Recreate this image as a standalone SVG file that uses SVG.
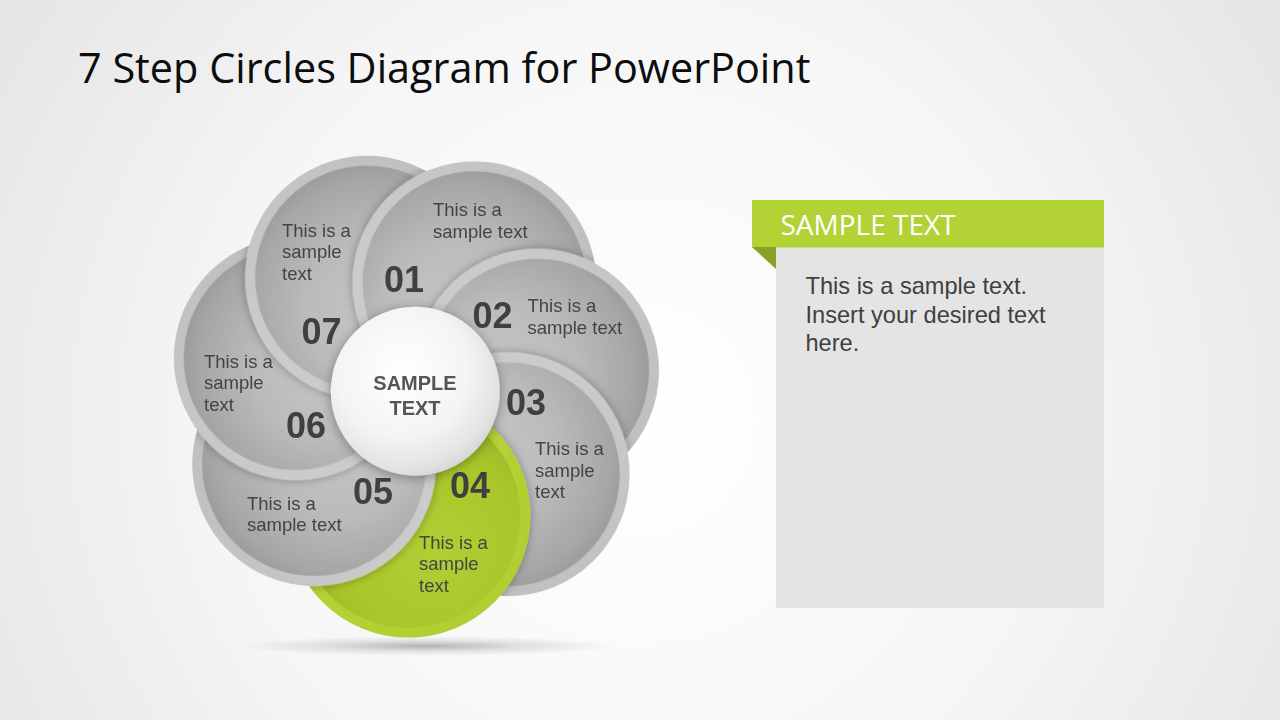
<svg xmlns="http://www.w3.org/2000/svg" xmlns:xlink="http://www.w3.org/1999/xlink" width="1280" height="720" viewBox="0 0 1280 720">
<style>
.t{font-family:"Liberation Sans",Arial,sans-serif;font-size:18.5px;fill:#444444}
.n{font-family:"Liberation Sans",Arial,sans-serif;font-size:36px;font-weight:bold;fill:#404040}
.c{font-family:"Liberation Sans",Arial,sans-serif;font-size:20px;font-weight:bold;fill:#555555;text-anchor:middle}
.title{font-family:"Open Sans",sans-serif;font-size:41.4px;fill:#0d0d0d}
.hd{font-family:"Open Sans",sans-serif;font-size:28px;fill:#ffffff}
.body{font-family:"Liberation Sans",Arial,sans-serif;font-size:23.6px;fill:#404040}
</style>
<defs>
<radialGradient id="bg" cx="640" cy="420" r="820" gradientUnits="userSpaceOnUse">
<stop offset="0" stop-color="#ffffff"/>
<stop offset="0.5" stop-color="#f6f6f6"/>
<stop offset="1" stop-color="#e2e2e2"/>
</radialGradient>
<linearGradient id="ring" x1="0" y1="0" x2="1" y2="1">
<stop offset="0" stop-color="#cecece"/>
<stop offset="1" stop-color="#bebebe"/>
</linearGradient>
<radialGradient id="inG" cx="0.38" cy="0.5" r="0.66" fx="0.3" fy="0.5">
<stop offset="0" stop-color="#c7c7c7"/>
<stop offset="0.5" stop-color="#bbbbbb"/>
<stop offset="0.85" stop-color="#a6a6a6"/>
<stop offset="1" stop-color="#979797"/>
</radialGradient>
<linearGradient id="ringGr" x1="0" y1="0" x2="1" y2="1">
<stop offset="0" stop-color="#b9d73b"/>
<stop offset="1" stop-color="#aecd2f"/>
</linearGradient>
<radialGradient id="inGr" cx="0.6" cy="0.62" r="0.72" fx="0.62" fy="0.66">
<stop offset="0" stop-color="#b1cf33"/>
<stop offset="0.6" stop-color="#a8c62b"/>
<stop offset="1" stop-color="#8ea720"/>
</radialGradient>
<radialGradient id="ctr" cx="0.42" cy="0.38" r="0.65">
<stop offset="0" stop-color="#ffffff"/>
<stop offset="0.6" stop-color="#f4f4f4"/>
<stop offset="0.9" stop-color="#e2e2e2"/>
<stop offset="1" stop-color="#d4d4d4"/>
</radialGradient>
<radialGradient id="flr" cx="0.5" cy="0.5" r="0.5">
<stop offset="0" stop-color="#000" stop-opacity="0.28"/>
<stop offset="0.5" stop-color="#000" stop-opacity="0.1"/>
<stop offset="1" stop-color="#000" stop-opacity="0"/>
</radialGradient>
<filter id="sh" x="-30%" y="-30%" width="160%" height="160%">
<feDropShadow dx="0" dy="0" stdDeviation="5" flood-color="#000" flood-opacity="0.33"/>
</filter>
<filter id="shc" x="-30%" y="-30%" width="160%" height="160%">
<feDropShadow dx="0" dy="2" stdDeviation="6" flood-color="#000" flood-opacity="0.35"/>
</filter>
<g id="disc">
<circle r="122" fill="url(#ring)"/>
<circle r="112" fill="url(#inG)"/>
</g>
<g id="discGreen">
<circle r="122" fill="url(#ringGr)"/>
<circle r="112" fill="url(#inGr)"/>
</g>
<mask id="m06" maskUnits="userSpaceOnUse" x="0" y="0" width="1280" height="720">
<circle cx="295.7" cy="358.1" r="134" fill="#fff"/>
</mask>
<mask id="mAll" maskUnits="userSpaceOnUse" x="0" y="0" width="1280" height="720">
<g fill="#fff">
<circle cx="474.5" cy="283.2" r="122"/>
<circle cx="537.2" cy="370.7" r="122"/>
<circle cx="507.8" cy="474.3" r="122"/>
<circle cx="408.5" cy="515.8" r="122"/>
<circle cx="314.1" cy="464.1" r="122"/>
<circle cx="295.7" cy="358.1" r="122"/>
<circle cx="367.1" cy="277.6" r="122"/>
</g>
</mask>
</defs>

<rect width="1280" height="720" fill="url(#bg)"/>

<g id="title">
<text class="title" x="78" y="83">7 Step Circles Diagram for PowerPoint</text>
</g>

<ellipse cx="427" cy="646" rx="190" ry="10" fill="url(#flr)"/>

<g id="connectors"/>

<g id="wheel" mask="url(#mAll)">
<g id="under-layer">
<use xlink:href="#disc" transform="translate(367.1,277.6) rotate(247.3)" filter="url(#sh)"/>
<use xlink:href="#disc" transform="translate(474.5,283.2) rotate(-61.3)" filter="url(#sh)"/>
</g>

<g id="node-02">
<use xlink:href="#disc" transform="translate(537.2,370.7) rotate(-9.9)" filter="url(#sh)"/>
<text class="n" x="472.5" y="328">02</text>
<text class="t" x="527.5" y="312">This is a</text>
<text class="t" x="527.5" y="333.5">sample text</text>
</g>

<g id="node-03">
<use xlink:href="#disc" transform="translate(507.8,474.3) rotate(41.6)" filter="url(#sh)"/>
<text class="n" x="506" y="415">03</text>
<text class="t" x="535" y="455">This is a</text>
<text class="t" x="535" y="476.5">sample</text>
<text class="t" x="535" y="498">text</text>
</g>

<g id="node-04">
<use xlink:href="#discGreen" transform="translate(408.5,515.8)" filter="url(#sh)"/>
<text class="n" x="450" y="498">04</text>
<text class="t" x="419" y="548.5">This is a</text>
<text class="t" x="419" y="570">sample</text>
<text class="t" x="419" y="591.5">text</text>
</g>

<g id="node-05">
<use xlink:href="#disc" transform="translate(314.1,464.1) rotate(144.4)" filter="url(#sh)"/>
<text class="n" x="353" y="504">05</text>
<text class="t" x="247" y="509.5">This is a</text>
<text class="t" x="247" y="531">sample text</text>
</g>

<g id="node-06">
<use xlink:href="#disc" transform="translate(295.7,358.1) rotate(195.9)" filter="url(#sh)"/>
<text class="n" x="286" y="438">06</text>
<text class="t" x="204" y="367.5">This is a</text>
<text class="t" x="204" y="389">sample</text>
<text class="t" x="204" y="410.5">text</text>
</g>

<g id="node-07">
<g mask="url(#m06)">
<use xlink:href="#disc" transform="translate(367.1,277.6) rotate(247.3)" filter="url(#sh)"/>
</g>
<text class="n" x="301.5" y="344">07</text>
<text class="t" x="282" y="236.5">This is a</text>
<text class="t" x="282" y="258">sample</text>
<text class="t" x="282" y="279.5">text</text>
</g>

<g id="node-01">
<g mask="url(#m06)">
<use xlink:href="#disc" transform="translate(474.5,283.2) rotate(-61.3)" filter="url(#sh)"/>
</g>
<text class="t" x="433" y="216">This is a</text>
<text class="t" x="433" y="237.5">sample text</text>
<text class="n" x="384" y="292">01</text>
</g>

<g id="node-center">
<circle cx="415.3" cy="391.2" r="84.5" fill="url(#ctr)" filter="url(#shc)"/>
<text class="c" x="415" y="390">SAMPLE</text>
<text class="c" x="415" y="414.5">TEXT</text>
</g>
</g>

<g id="panel">
<rect x="776" y="247" width="328" height="361" fill="#e4e4e4"/>
<rect x="752" y="200" width="352" height="47.5" fill="#b2d235"/>
<polygon points="752,247 776,247 776,269" fill="#8aa127"/>
<text class="hd" x="780.5" y="235">SAMPLE TEXT</text>
<text class="body" x="805.5" y="293.5">This is a sample text.</text>
<text class="body" x="805.5" y="322.5">Insert your desired text</text>
<text class="body" x="805.5" y="351">here.</text>
</g>
</svg>
